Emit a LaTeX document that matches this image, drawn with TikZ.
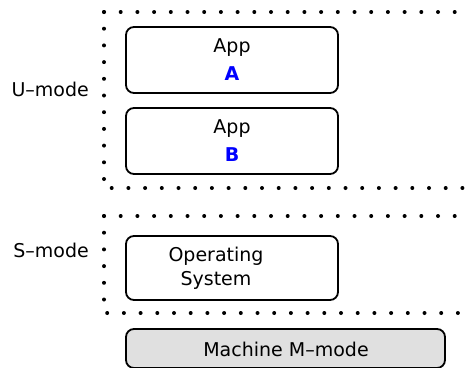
\documentclass[tikz,border=0pt]{standalone}
\usepackage{fontspec}
\setmainfont{DejaVu Sans}

\begin{document}
\begin{tikzpicture}[x=1pt,y=-1pt]
	\tikzstyle{every node}=[font=\fontsize{19}{28}\selectfont,inner sep=0pt]
	\tikzstyle{modebox}=[draw,line width=1.8pt,rounded corners=8pt,align=center]
	\tikzstyle{modedots}=[line width=4pt,line cap=round,dash pattern=on 0pt off 16.7pt]
	\useasboundingbox (0,0) rectangle (468,367);
	\clip (0,0) rectangle (468,367);
	% dotted mode areas
	\draw[modedots] (104,12) -- (485,12);
	\draw[modedots] (104,12) -- (104,188) -- (485,188);
	\draw[modedots] (104,216) -- (485,216);
	\draw[modedots] (104,216) -- (104,313) -- (485,313);
	\node[anchor=base east] (umode) at (89,96) {U–mode};
	\node[anchor=base east] (smode) at (89,257) {S–mode};
	% boxes
	\node[modebox,minimum width=212pt,minimum height=66pt] (appa) at (232,60)
		{App\\\textcolor{blue}{\bfseries A}};
	\node[modebox,minimum width=212pt,minimum height=66pt] (appb) at (232,141)
		{App\\\textcolor{blue}{\bfseries B}};
	\node[modebox,minimum width=212pt,minimum height=64pt] (os) at (232,268) {};
	\node[align=center,font=\fontsize{19}{24}\selectfont] (ostext) at (os.center) [xshift=-16pt] {Operating\\System};
	\node[modebox,fill={rgb,255:red,224;green,224;blue,224},minimum width=319pt,minimum height=39pt] (machine) at (285.5,348.5) {};
	\node[anchor=base] (machinetext) at (286,356) {Machine M–mode};
\end{tikzpicture}
\end{document}
